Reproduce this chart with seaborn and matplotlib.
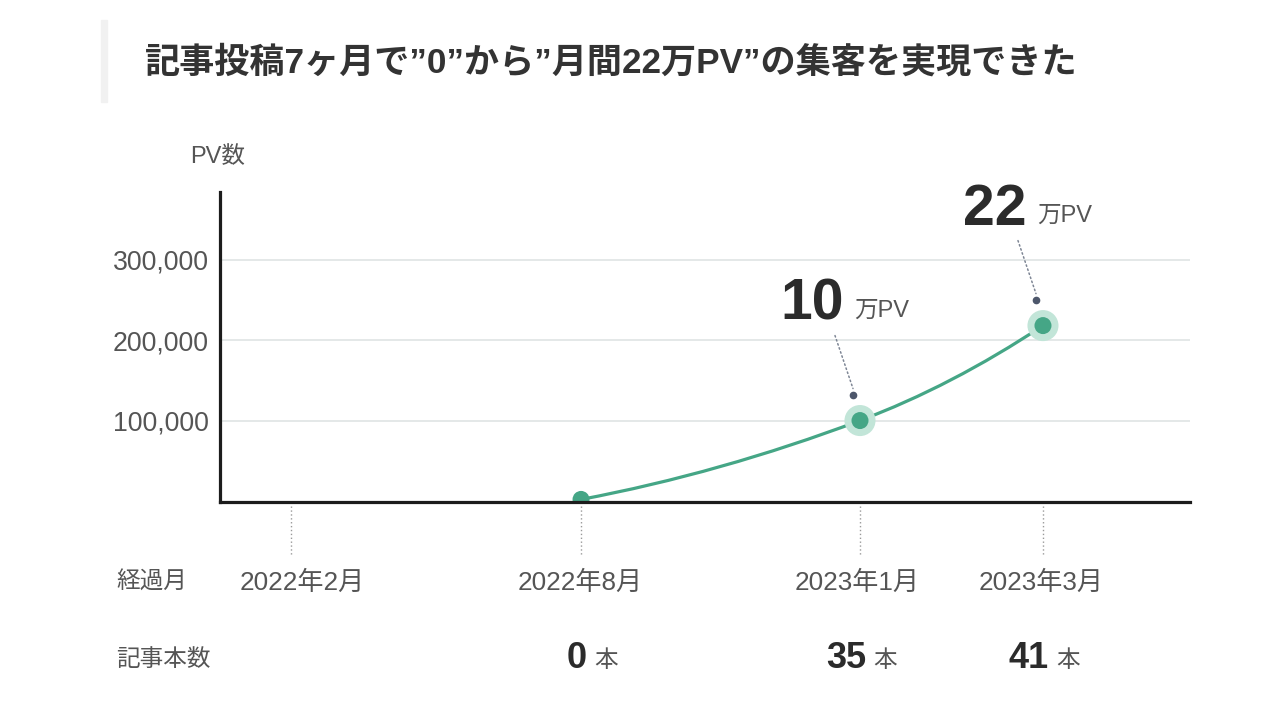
import numpy as np
import pandas as pd
import seaborn as sns
import matplotlib
matplotlib.use("Agg")
import matplotlib.pyplot as plt
from matplotlib.path import Path
from matplotlib.patches import PathPatch, Rectangle
from matplotlib import transforms

# data
months = ["2022年2月", "2022年8月", "2023年1月", "2023年3月"]
pv_months = ["2022年8月", "2023年1月", "2023年3月"]
pv = [2000, 100000, 218000]
articles = [0, 35, 41]
pv_labels = ["", "10", "22"]          # 万PV callouts
yticks = [100000, 200000, 300000]

# layout: the months are not spaced evenly on the original
month_pos = {"2022年2月": 0.0, "2022年8月": 1.0, "2023年1月": 1.962, "2023年3月": 2.593}
label_dx = {"2022年2月": 11, "2022年8月": -1, "2023年1月": -3, "2023年3月": -2}

GREEN = "#45a686"
HALO = "#c2e5d8"
TXT = "#555555"
DARK = "#2b2b2b"

sns.set_theme(style="white")
plt.rcParams["font.family"] = ["Liberation Sans", "Noto Sans CJK JP"]

df = pd.DataFrame({"month": pv_months, "pv": pv, "articles": articles, "label": pv_labels})
df["x"] = df["month"].map(month_pos)

fig = plt.figure(figsize=(12.8, 7.22), dpi=100)
ax = fig.add_axes([220 / 1280, 1 - 502 / 722, 970 / 1280, 310 / 722])

# smooth growth curve (cubic bezier through the points)
x = df["x"].values
y = df["pv"].values.astype(float)
sec = np.diff(y) / np.diff(x)
m = np.empty(3)
m[1] = (y[2] - y[0]) / (x[2] - x[0])
m[0] = 2 * sec[0] - m[1]
m[2] = 2 * sec[1] - m[1]
verts = [(x[0], y[0])]
codes = [Path.MOVETO]
for i in range(2):
    h = x[i + 1] - x[i]
    verts += [(x[i] + h / 3, y[i] + m[i] * h / 3),
              (x[i + 1] - h / 3, y[i + 1] - m[i + 1] * h / 3),
              (x[i + 1], y[i + 1])]
    codes += [Path.CURVE4] * 3
ax.add_patch(PathPatch(Path(verts, codes), facecolor="none", edgecolor=GREEN, lw=2.3, zorder=3))

# points
sns.scatterplot(data=df[df["label"] != ""], x="x", y="pv", s=500, color=HALO,
                edgecolor="none", ax=ax, zorder=4, legend=False)
sns.scatterplot(data=df, x="x", y="pv", s=150, color=GREEN,
                edgecolor="none", ax=ax, zorder=5, legend=False)

ax.set_xlim(-0.245, 3.1)
ax.set_ylim(-1200, 384000)
ax.set_xticks([])
ax.set_yticks(yticks)
ax.set_yticklabels([f"{v:,}" for v in yticks], fontsize=19.2, color=TXT)
ax.tick_params(axis="y", length=0, pad=8)
ax.set_xlabel("")
ax.set_ylabel("")
ax.grid(axis="y", color="#e2e6e6", linewidth=1.3)
ax.set_axisbelow(True)
for s in ["top", "right"]:
    ax.spines[s].set_visible(False)
for s in ["left", "bottom"]:
    ax.spines[s].set_linewidth(2.3)
    ax.spines[s].set_color("#1c1c1c")
    ax.spines[s].set_zorder(6)

# callouts 10万PV / 22万PV
for _, r in df[df["label"] != ""].iterrows():
    dot_tr = transforms.offset_copy(ax.transData, fig=fig, x=-7, y=26, units="dots")
    ax.plot([r["x"]], [r["pv"]], "o", ms=4.5, color="#4d576b", transform=dot_tr, zorder=5)
    ln_tr = transforms.offset_copy(ax.transData, fig=fig, x=-7, y=32, units="dots")
    ax.annotate("", xy=(r["x"], r["pv"]), xycoords=ln_tr, xytext=(-18, 53),
                textcoords="offset pixels",
                arrowprops=dict(arrowstyle="-", color="#7d8594", lw=1.1,
                                linestyle=(0, (1, 1.8)), shrinkA=0, shrinkB=0))
    ax.annotate(r["label"], xy=(r["x"], r["pv"]), xytext=(-16, 116), textcoords="offset pixels",
                ha="right", va="center", fontsize=41, fontweight="bold", color=DARK)
    ax.annotate("万PV", xy=(r["x"], r["pv"]), xytext=(-6, 110), textcoords="offset pixels",
                ha="left", va="center", fontsize=17, color=TXT)

# month guides and labels below the axis
btr = transforms.blended_transform_factory(ax.transData, fig.transFigure)
for mo in months:
    xp = month_pos[mo]
    ax.plot([xp, xp], [1 - 506 / 722, 1 - 556 / 722], transform=btr, clip_on=False,
            color="#9a9a9a", lw=1.0, linestyle=(0, (1, 1.8)))
    ltr = transforms.offset_copy(btr, fig=fig, x=label_dx[mo], y=0, units="dots")
    ax.text(xp, 1 - 583 / 722, mo, transform=ltr, ha="center", va="center",
            fontsize=18.8, color=TXT)

for _, r in df.iterrows():
    ntr = transforms.offset_copy(btr, fig=fig, x=6, y=0, units="dots")
    ax.text(r["x"], 1 - 659 / 722, str(r["articles"]), transform=ntr, ha="right",
            va="center", fontsize=26, fontweight="bold", color=DARK)
    ktr = transforms.offset_copy(btr, fig=fig, x=13, y=0, units="dots")
    ax.text(r["x"], 1 - 661 / 722, "本", transform=ktr, ha="left", va="center",
            fontsize=17, color=TXT)

fig.text(116 / 1280, 1 - 583 / 722, "経過月", ha="left", va="center", fontsize=17, color=TXT)
fig.text(116 / 1280, 1 - 660 / 722, "記事本数", ha="left", va="center", fontsize=17, color=TXT)
fig.text(218 / 1280, 1 - 157 / 722, "PV数", ha="center", va="center", fontsize=17, color=TXT)

# title with grey bar
fig.patches.append(Rectangle((101 / 1280, 1 - 102 / 722), 6 / 1280, 82 / 722,
                             transform=fig.transFigure, color="#f1f1f1", zorder=0))
fig.text(145 / 1280, 1 - 63 / 722, "記事投稿7ヶ月で”0”から”月間22万PV”の集客を実現できた",
         ha="left", va="center", fontsize=25.3, fontweight="bold", color="#333333")

fig.savefig("out.png", dpi=100)
